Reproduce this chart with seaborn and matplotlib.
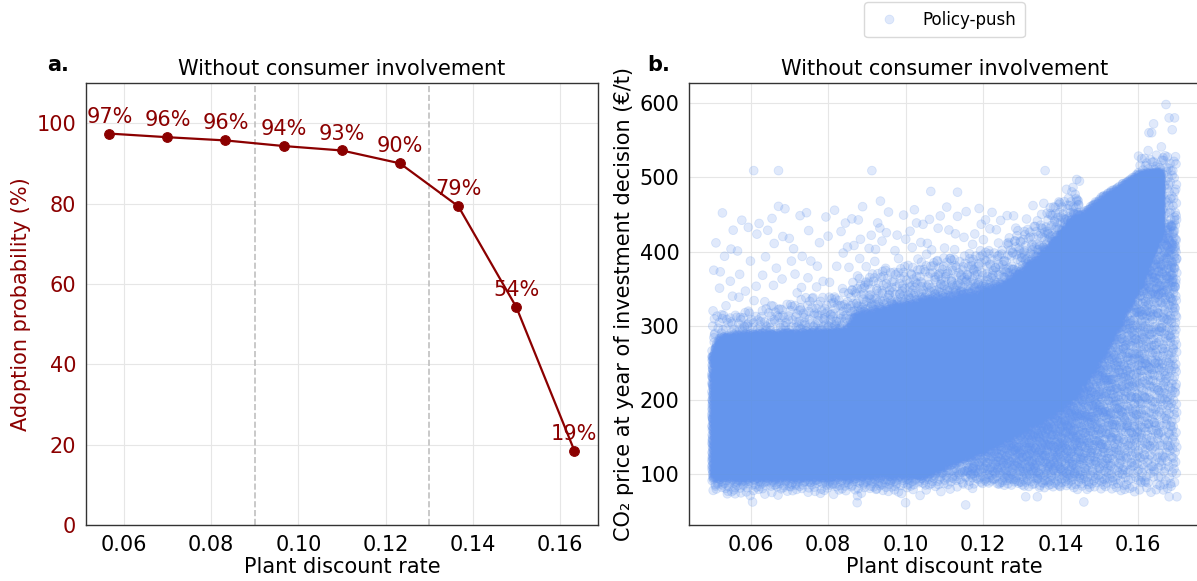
import numpy as np
import pandas as pd
import matplotlib
matplotlib.use("Agg")
import matplotlib.pyplot as plt
import seaborn as sns

# ---------------- Panel a: adoption probability per discount-rate bin ----------------
rate_bins = [0.0567, 0.0700, 0.0833, 0.0967, 0.1100, 0.1233, 0.1367, 0.1500, 0.1633]
adoption_pct = [97.4, 96.5, 95.7, 94.3, 93.2, 90.0, 79.3, 54.2, 18.5]
adoption_labels = ["97%", "96%", "96%", "94%", "93%", "90%", "79%", "54%", "19%"]
regime_edges = [0.09, 0.13]

# ---------------- Panel b: CO2 price at investment decision ----------------
# Envelope of the saturated core of the run cloud (discount rate -> price bounds)
core_rate = [0.050, 0.052, 0.060, 0.085, 0.087, 0.105, 0.115, 0.125, 0.135, 0.143, 0.150, 0.155, 0.160, 0.166]
core_low = [95, 95, 95, 96, 97, 98, 118, 145, 172, 200, 250, 300, 350, 430]
core_high = [258, 285, 290, 292, 312, 332, 338, 352, 392, 440, 472, 488, 505, 508]

# Looser runs below/right of the core at high discount rates
lower_rate = [0.115, 0.125, 0.135, 0.143, 0.150, 0.155, 0.160, 0.166, 0.170]
lower_low = [88, 84, 82, 80, 78, 76, 75, 75, 75]
lower_high = [118, 145, 172, 200, 250, 300, 350, 430, 450]

# Runs at the far right edge
edge_rate = [0.160, 0.170]
edge_low = [340, 340]
edge_high = [530, 530]

# Runs above the core (upper ceiling of the sparse fringe)
upper_rate = [0.050, 0.085, 0.087, 0.105, 0.125, 0.135, 0.145]
upper_ceiling = [462, 462, 462, 462, 462, 465, 468]

# Runs just below the core at low discount rates
floor_rate = [0.050, 0.100, 0.118]
floor_low = [68, 68, 74]
floor_high = [96, 98, 112]

# Isolated runs
outlier_rate = [0.0608, 0.0672, 0.0913, 0.1065, 0.1134, 0.1360, 0.0935, 0.1628, 0.1635,
                0.1640, 0.1672, 0.1680, 0.1694, 0.1688, 0.1660, 0.1626, 0.1155, 0.1000,
                0.0875, 0.0605, 0.1460, 0.1680, 0.1700, 0.1340, 0.1310, 0.0540, 0.0560]
outlier_price = [509, 509, 509, 481, 480, 509, 468, 560, 560,
                 572, 598, 580, 580, 564, 541, 536, 59, 62,
                 62, 63, 63, 70, 70, 70, 70, 74, 74]

# Number of runs drawn in each part of the cloud
n_core, n_lower, n_edge, n_near_upper, n_upper, n_floor = 22000, 2200, 260, 900, 320, 360


def radical_inverse(i, base):
    out = np.zeros(len(i))
    f = 1.0 / base
    i = i.copy()
    while np.any(i > 0):
        out += f * (i % base)
        i //= base
        f /= base
    return out


def halton(n, start):
    i = np.arange(start, start + n)
    return radical_inverse(i, 2), radical_inverse(i, 3)


def cloud(n, xs, lo, hi, power=1.0, start=1, xpower=1.0):
    u, v = halton(n, start)
    x = xs[0] + (xs[-1] - xs[0]) * u ** xpower
    ylo = np.interp(x, xs, lo)
    yhi = np.interp(x, xs, hi)
    return x, ylo + (yhi - ylo) * v ** power


upper_base = np.interp(upper_rate, core_rate, core_high)
parts = [
    cloud(n_core, core_rate, core_low, core_high, 1.0, 1),
    cloud(n_lower, lower_rate, lower_low, lower_high, 0.8, 30011, 0.6),
    cloud(n_edge, edge_rate, edge_low, edge_high, 1.0, 40009),
    cloud(n_near_upper, upper_rate, upper_base, upper_base + 55, 2.0, 50021),
    cloud(n_upper, upper_rate, upper_base, upper_ceiling, 1.6, 60013),
    cloud(n_floor, floor_rate, floor_low, floor_high, 0.4, 70001),
    (np.array(outlier_rate), np.array(outlier_price, dtype=float)),
]
runs = pd.DataFrame({
    "rate": np.concatenate([p[0] for p in parts]),
    "price": np.concatenate([p[1] for p in parts]),
    "scenario": "Policy-push",
})

adoption = pd.DataFrame({"rate": rate_bins, "pct": adoption_pct})

# ---------------- Figure ----------------
sns.set_style("white")
plt.rcParams["font.family"] = ["DejaVu Sans"]
plt.rcParams.update({"text.color": "black", "axes.labelcolor": "black",
                     "xtick.color": "black", "ytick.color": "black"})
FS = 15
RED = "#8B0000"
BLUE = "cornflowerblue"

fig = plt.figure(figsize=(11.97, 5.81), dpi=100)
ax1 = fig.add_axes([0.0718, 0.0964, 0.4277, 0.7608])
ax2 = fig.add_axes([0.5756, 0.0964, 0.4270, 0.7608])

for ax in (ax1, ax2):
    ax.grid(True, color="#e6e6e6", linewidth=0.8)
    ax.set_axisbelow(True)
    for s in ax.spines.values():
        s.set_color("#333333")
        s.set_linewidth(1.0)
    ax.tick_params(axis="both", labelsize=FS, length=3.5, width=0.8, color="#333333",
                   labelcolor="black")

# Panel a
for xe in regime_edges:
    ax1.axvline(xe, color="#c0c0c0", linestyle="--", linewidth=1.2, zorder=1)
sns.lineplot(data=adoption, x="rate", y="pct", ax=ax1, color=RED, marker="o",
             markersize=7, markeredgecolor=RED, linewidth=1.6, zorder=3)
for xv, yv, lab in zip(rate_bins, adoption_pct, adoption_labels):
    ax1.annotate(lab, (xv, yv), xytext=(0, 5), textcoords="offset points",
                 ha="center", va="bottom", color=RED, fontsize=FS)
ax1.set_ylim(0, 110)
ax1.set_xlim(0.0513, 0.1687)
ax1.set_yticks([0, 20, 40, 60, 80, 100])
ax1.set_xticks([0.06, 0.08, 0.10, 0.12, 0.14, 0.16])
ax1.set_xticklabels(["0.06", "0.08", "0.10", "0.12", "0.14", "0.16"])
ax1.tick_params(axis="y", labelcolor=RED)
ax1.set_xlabel("Plant discount rate", fontsize=FS, labelpad=2)
ax1.set_ylabel("Adoption probability (%)", fontsize=FS, color=RED, labelpad=4)
ax1.set_title("Without consumer involvement", fontsize=FS, pad=6)
fig.text(0.039, 0.878, "a.", fontsize=FS, fontweight="bold")

# Panel b
sns.scatterplot(data=runs, x="rate", y="price", hue="scenario", palette=[BLUE], ax=ax2,
                s=40, alpha=0.2, edgecolor=BLUE, linewidth=0.6, rasterized=True)
ax2.set_xlim(0.0441, 0.1760)
ax2.set_ylim(32, 627)
ax2.set_xticks([0.06, 0.08, 0.10, 0.12, 0.14, 0.16])
ax2.set_xticklabels(["0.06", "0.08", "0.10", "0.12", "0.14", "0.16"])
ax2.set_yticks([100, 200, 300, 400, 500, 600])
ax2.set_xlabel("Plant discount rate", fontsize=FS, labelpad=2)
ax2.set_ylabel("CO₂ price at year of investment decision (€/t)", fontsize=FS, labelpad=4)
ax2.set_title("Without consumer involvement", fontsize=FS, pad=6)
fig.text(0.541, 0.878, "b.", fontsize=FS, fontweight="bold")
leg = ax2.legend(loc="lower center", bbox_to_anchor=(0.5, 1.085), fontsize=12,
                 frameon=True, handletextpad=1.0, borderpad=0.5)
leg.get_frame().set_edgecolor("#d0d0d0")

fig.savefig("out.png", dpi=100)
